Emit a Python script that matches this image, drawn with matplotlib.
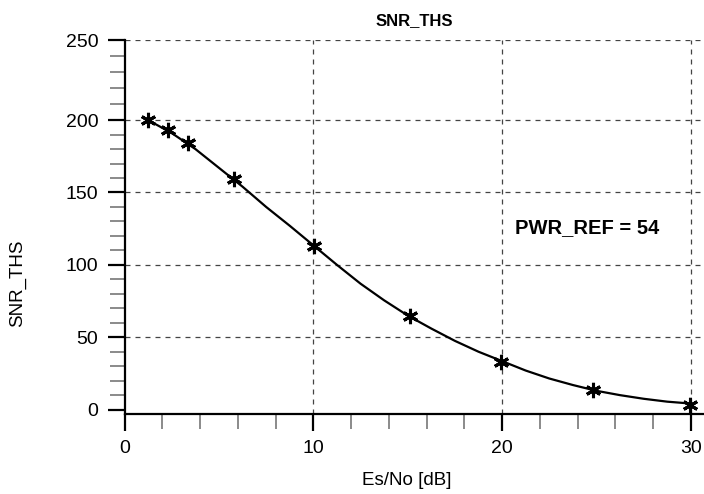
import numpy as np
import matplotlib
matplotlib.use("Agg")
import matplotlib.pyplot as plt
from matplotlib.ticker import MultipleLocator

plt.rcParams['font.family'] = ['Liberation Sans', 'DejaVu Sans']
plt.rcParams['xtick.direction'] = 'out'
plt.rcParams['ytick.direction'] = 'out'

# measured points (stars)
es_no = [1.25, 2.28, 3.34, 5.8, 10.04, 15.13, 19.94, 24.82, 29.94]
snr_ths = [200, 193, 184, 159, 113, 65, 33, 13.6, 3.3]

# fitted curve
curve_x = [1.25, 2.5, 3.75, 5, 6.25, 7.5, 8.75, 10, 11.25, 12.5, 13.75, 15,
           16.25, 17.5, 18.75, 20, 21.25, 22.5, 23.75, 25, 26.25, 27.5, 28.75, 30]
curve_y = [200, 191, 180, 167, 154, 140, 127, 113.5, 100, 87, 75.5, 65,
           56, 47.5, 40, 33.5, 27, 21.5, 17, 13, 10, 7.5, 5.5, 4.2]

x_ticks = [0, 10, 20, 30]
y_ticks = [0, 50, 100, 150, 200, 250]

# the top band of the original axis is slightly stretched
k = 80 / 72.3


def fwd(y):
    y = np.asarray(y, dtype=float)
    return np.where(y > 200, 200 + (y - 200) * k, y)


def inv(y):
    y = np.asarray(y, dtype=float)
    return np.where(y > 200, 200 + (y - 200) / k, y)


fig = plt.figure(figsize=(7.04, 4.94), dpi=100)
ax = fig.add_axes([0.177, 0.162, 0.822, 0.757])
ax.set_yscale('function', functions=(fwd, inv))

ax.plot(curve_x, curve_y, color='black', linewidth=1.6, zorder=3)
ax.plot(es_no, snr_ths, linestyle='none', marker=(6, 2, 0), markersize=11,
        markeredgewidth=2.2, color='black', zorder=4)

ax.set_xlim(0, 30.66)
ax.set_ylim(-3, 250)
ax.set_xticks(x_ticks)
ax.set_yticks(y_ticks)
ax.xaxis.set_minor_locator(MultipleLocator(2))
ax.yaxis.set_minor_locator(MultipleLocator(10))

# dashed grid at the major ticks, none on the axes themselves
for v in x_ticks[1:]:
    ax.axvline(v, color='#444444', linestyle=(0, (4, 4)), linewidth=0.9, zorder=1)
for v in y_ticks[1:]:
    ax.axhline(v, color='#444444', linestyle=(0, (4, 4)), linewidth=0.9, zorder=1)

for s in ['top', 'right']:
    ax.spines[s].set_visible(False)
for s in ['left', 'bottom']:
    ax.spines[s].set_linewidth(1.6)

ax.tick_params(which='major', length=12, width=1.6, color='black',
               labelsize=14, pad=7)
ax.tick_params(which='minor', length=11, width=1.2, color='#777777')

ax.set_title('SNR_THS', fontsize=12, fontweight='bold', pad=11)
ax.set_xlabel('Es/No [dB]', fontsize=13.5)
ax.set_ylabel('SNR_THS', fontsize=13.5)
ax.xaxis.set_label_coords(0.487, -0.155)
ax.yaxis.set_label_coords(-0.171, 0.35)

ax.text(20.7, 126, 'PWR_REF = 54', fontsize=14.5, fontweight='bold',
        ha='left', va='center')

fig.savefig('out.png', dpi=100)
